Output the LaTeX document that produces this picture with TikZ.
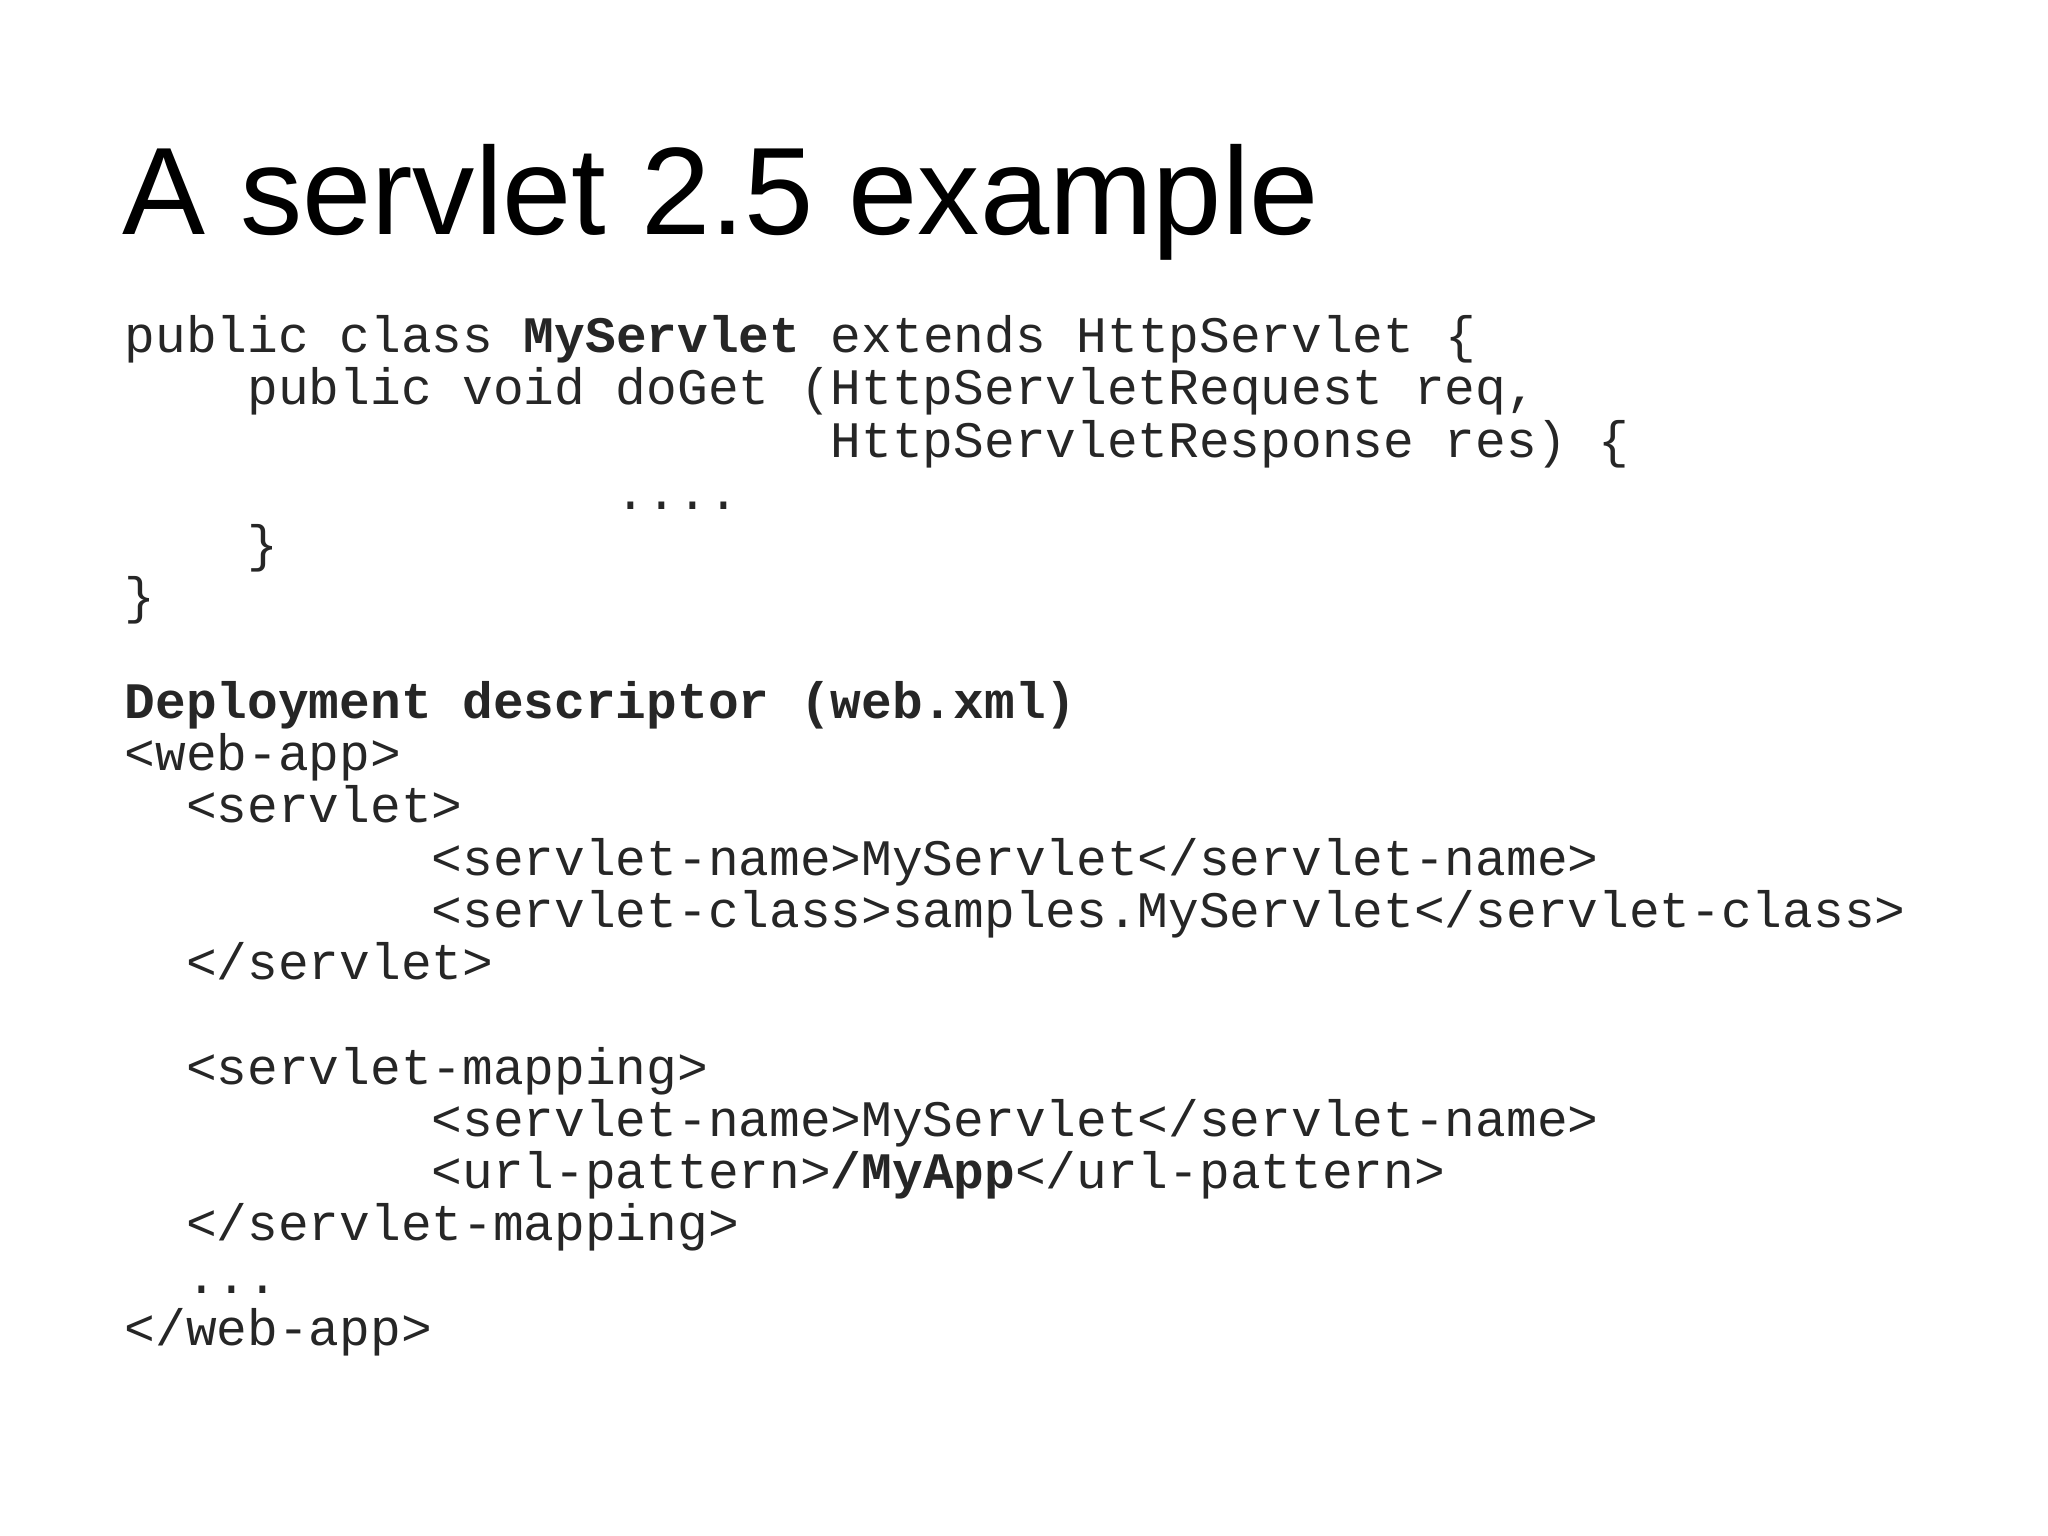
\documentclass[tikz,border=0pt]{standalone}
\usepackage{fontspec}
\setmainfont{Liberation Sans}
\newfontfamily\codefont{Liberation Mono}
\tikzset{
 code/.style={anchor=base west,inner sep=0pt,font=\codefont\fontsize{14.56pt}{17pt}\selectfont,text=black!85},
 ttl/.style={anchor=base west,inner sep=0pt,font=\fontsize{35.4pt}{40pt}\selectfont}
}
\def\cw{0.307}
\def\ls{0.5224}
\begin{document}
\begin{tikzpicture}
\useasboundingbox (0,0) rectangle (20.48,-15.36);
\node[ttl] (title) at (1.22,-2.35) {A servlet 2.5 example};
\newcommand{\cl}[4]{\node[code] (#1) at ({1.24+#2*\cw},{-3.527-#3*\ls}) {#4};}
\cl{l1}{0}{0}{public class \textbf{MyServlet} extends HttpServlet \{}
\cl{l2}{4}{1}{public void doGet (HttpServletRequest req,}
\cl{l3}{23}{2}{HttpServletResponse res) \{}
\cl{l4}{16}{3}{....}
\cl{l5}{4}{4}{\}}
\cl{l6}{0}{5}{\}}
\cl{l8}{0}{7}{\textbf{Deployment descriptor (web.xml)}}
\cl{l9}{0}{8}{<web-app>}
\cl{l10}{2}{9}{<servlet>}
\cl{l11}{10}{10}{<servlet-name>MyServlet</servlet-name>}
\cl{l12}{10}{11}{<servlet-class>samples.MyServlet</servlet-class>}
\cl{l13}{2}{12}{</servlet>}
\cl{l15}{2}{14}{<servlet-mapping>}
\cl{l16}{10}{15}{<servlet-name>MyServlet</servlet-name>}
\cl{l17}{10}{16}{<url-pattern>\textbf{/MyApp}</url-pattern>}
\cl{l18}{2}{17}{</servlet-mapping>}
\cl{l19}{2}{18}{...}
\cl{l20}{0}{19}{</web-app>}
\end{tikzpicture}
\end{document}
